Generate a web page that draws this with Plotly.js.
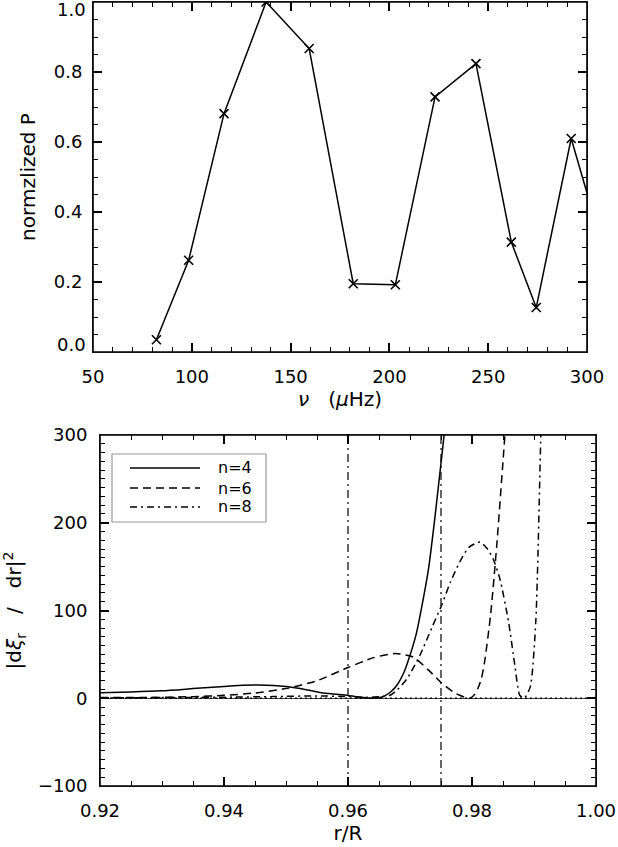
<!DOCTYPE html>
<html>
<head>
<meta charset="utf-8">
<script src="https://cdn.plot.ly/plotly-3.0.1.min.js"></script>
<style>html,body{margin:0;padding:0;background:#fff;}#chart{width:618px;height:847px;}</style>
</head>
<body>
<div id="chart"></div>
<script>
// ---- top panel data ----
var freq  = [82.1, 98.4, 116.3, 137.6, 159.4, 181.7, 203.0, 223.1, 243.8, 261.7, 274.3, 292.0, 311.0];
var power = [0.035, 0.262, 0.681, 1.000, 0.867, 0.195, 0.192, 0.729, 0.824, 0.314, 0.127, 0.610, 0.240];
var powerTicks  = [0.0, 0.2, 0.4, 0.6, 0.8, 1.0];
var freqRange   = [50, 300];

// ---- bottom panel data ----
var r4 = [0.92, 0.925, 0.93, 0.935, 0.94, 0.945, 0.948, 0.952, 0.956, 0.96, 0.962, 0.9635, 0.965, 0.966, 0.967, 0.968, 0.969, 0.970, 0.971, 0.972, 0.973, 0.974, 0.975, 0.9755, 0.976];
var d4 = [6.4, 7.2, 8.5, 11, 13.5, 15, 14.5, 11.5, 6, 3.2, 1.2, 0.2, 0.5, 3, 8, 16, 29, 49, 73, 108, 148, 205, 268, 300, 340];

var r6 = [0.92, 0.93, 0.935, 0.94, 0.945, 0.95, 0.955, 0.96, 0.964, 0.9676, 0.9705, 0.973, 0.975, 0.977, 0.978, 0.979, 0.9797, 0.9805, 0.981, 0.9815, 0.982, 0.983, 0.984, 0.985, 0.9855, 0.986];
var d6 = [0.8, 1.0, 1.8, 3.3, 6, 11, 20, 35, 46, 51, 47, 32, 18, 7, 3.4, 0.8, 0, 5, 12, 22, 40, 95, 175, 270, 320, 380];

var r8 = [0.92, 0.93, 0.94, 0.948, 0.955, 0.96, 0.963, 0.9655, 0.9668, 0.968, 0.9695, 0.9716, 0.9735, 0.9751, 0.9765, 0.978, 0.9795, 0.9813, 0.9825, 0.9834, 0.9845, 0.9859, 0.9869, 0.9877, 0.9884, 0.9894, 0.9903, 0.9911, 0.9915];
var d8 = [0.3, 0.8, 1.2, 1.9, 2.7, 1.9, 1.0, 2.0, 3.4, 10, 22, 49, 80, 106, 132, 155, 172, 178, 170, 159, 136, 87, 38, 3.4, 0, 13, 89, 300, 400];

var boundaryR = [0.96, 0.975];
var yLimits = [-100, 300];
var xLimits = [0.92, 1.00];
var seriesNames = ['n=4', 'n=6', 'n=8'];

// ---- styles ----
var FONT = 'DejaVu Sans, sans-serif';
var CLEAR = 'rgba(0,0,0,0)';
var dashStyles = ['solid', '8px,5px', '7px,4px,2px,4px'];
var vlineX = [], vlineY = [];
boundaryR.forEach(function (b) { vlineX.push(b, b, null); vlineY.push(yLimits[0], yLimits[1], null); });

var traces = [
  {x: freq, y: power, type: 'scatter', mode: 'lines+markers', xaxis: 'x', yaxis: 'y',
   line: {color: '#000', width: 1.5},
   marker: {symbol: 'x-thin-open', size: 9, color: '#000', line: {color: '#000', width: 1.6}},
   showlegend: false},
  {x: vlineX, y: vlineY, type: 'scatter', mode: 'lines', xaxis: 'x2', yaxis: 'y2',
   line: {color: '#000', width: 1.2, dash: '8px,4px,2px,4px'}, showlegend: false},
  {x: xLimits, y: [0, 0], type: 'scatter', mode: 'lines', xaxis: 'x2', yaxis: 'y2',
   line: {color: '#000', width: 1.4, dash: '2px,3px'}, showlegend: false}
];
[[r4, d4], [r6, d6], [r8, d8]].forEach(function (s, i) {
  traces.push({x: s[0], y: s[1], name: seriesNames[i], type: 'scatter', mode: 'lines', xaxis: 'x2', yaxis: 'y2',
    line: {color: '#000', width: 1.5, dash: dashStyles[i], shape: 'spline', smoothing: 0.6}, showlegend: false});
});

function ax(extra) {
  var b = {showline: true, mirror: 'ticks', ticks: 'inside', ticklen: 9, tickwidth: 1.5, tickcolor: '#000', showgrid: false,
           tickfont: {family: FONT, size: 18, color: '#000'}};
  for (var k in extra) b[k] = extra[k];
  return b;
}
function minorStyle(d) { return {ticks: 'inside', ticklen: 5, tickwidth: 1.2, tickcolor: '#000', dtick: d, showgrid: false}; }
function titleOf(t, s) { return {text: t, font: {family: FONT, size: 20, color: '#000'}, standoff: s}; }

var layout = {
  width: 618, height: 847,
  margin: {l: 0, r: 0, t: 0, b: 0},
  showlegend: false,
  xaxis: ax({domain: [93/618, 587/618], range: freqRange, anchor: 'y', ticklabelstandoff: 8,
    minor: minorStyle(10), title: titleOf('<i>ν</i>   (<i>μ</i>Hz)', 2)}),
  yaxis: ax({domain: [1 - 352/847, 1 - 2/847], range: [powerTicks[0], powerTicks[powerTicks.length - 1]], anchor: 'x',
    tickmode: 'array', tickvals: powerTicks.slice(1, -1),
    ticktext: powerTicks.slice(1, -1).map(function (v) { return v.toFixed(1); }),
    ticklabelstandoff: 6, minor: minorStyle(0.05), title: titleOf('normzlized P', 12)}),
  xaxis2: ax({domain: [100/618, 596/618], range: xLimits, anchor: 'y2', tickformat: '.2f', ticklabelstandoff: 8,
    minor: minorStyle(0.005), title: titleOf('r/R', 4)}),
  yaxis2: ax({domain: [1 - 786/847, 1 - 435/847], range: yLimits, anchor: 'x2', dtick: 100, ticklabelstandoff: 8,
    minor: minorStyle(10), title: titleOf('|d<i>ξ</i><sub>r</sub>   /   dr|<sup>2</sup>', 12)})
};

// end labels 0.0 / 1.0 drawn shifted inward, as in the original
var annotations = [
  {xref: 'x domain', yref: 'y', x: 0, y: powerTicks[powerTicks.length - 1], xanchor: 'right', yanchor: 'top',
   xshift: -6, yshift: 4, text: powerTicks[powerTicks.length - 1].toFixed(1), showarrow: false, borderpad: 0,
   font: {family: FONT, size: 18, color: '#000'}},
  {xref: 'x domain', yref: 'y', x: 0, y: powerTicks[0], xanchor: 'right', yanchor: 'bottom',
   xshift: -6, yshift: -4, text: powerTicks[0].toFixed(1), showarrow: false, borderpad: 0,
   font: {family: FONT, size: 18, color: '#000'}}
];
// black frames and the legend box
var shapes = [
  {type: 'rect', xref: 'x domain', yref: 'y domain', x0: 0, x1: 1, y0: 0, y1: 1, line: {color: '#000', width: 1.6}, fillcolor: CLEAR},
  {type: 'rect', xref: 'x2 domain', yref: 'y2 domain', x0: 0, x1: 1, y0: 0, y1: 1, line: {color: '#000', width: 1.6}, fillcolor: CLEAR},
  {type: 'rect', xref: 'x2 domain', yref: 'y2 domain', x0: 0.0242, x1: 0.3347, y0: 0.7521, y1: 0.9459,
   line: {color: '#999', width: 1.2}, fillcolor: CLEAR}
];
var legY = [0.906, 0.849, 0.795];
seriesNames.forEach(function (nm, i) {
  shapes.push({type: 'line', xref: 'x2 domain', yref: 'y2 domain', x0: 0.0605, x1: 0.2016, y0: legY[i], y1: legY[i],
    line: {color: '#000', width: 1.5, dash: dashStyles[i]}});
  annotations.push({xref: 'x2 domain', yref: 'y2 domain', x: 0.2359, y: legY[i], xanchor: 'left', yanchor: 'middle',
    text: nm, showarrow: false, font: {family: FONT, size: 16, color: '#000'}, borderpad: 0});
});
layout.shapes = shapes;
layout.annotations = annotations;

Plotly.newPlot('chart', traces, layout, {displayModeBar: false});
</script>
</body>
</html>
